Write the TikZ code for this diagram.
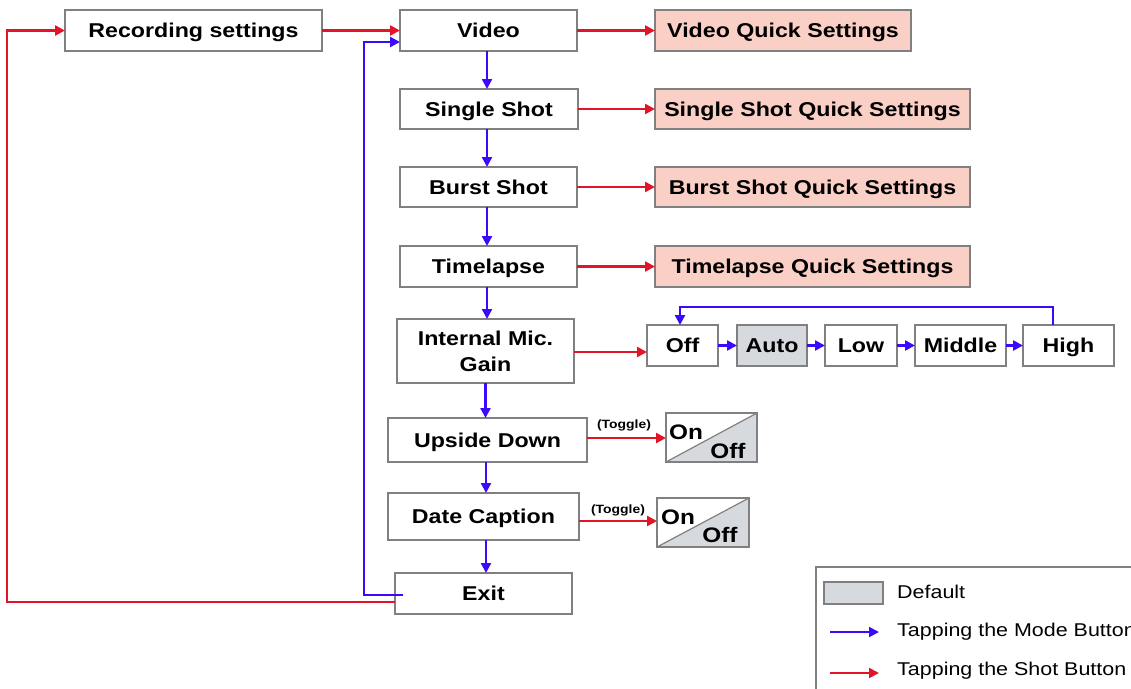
\documentclass[tikz,border=0pt]{standalone}
\usepackage{fontspec}
\setmainfont[FakeStretch=1.16]{Liberation Sans}
\usetikzlibrary{arrows.meta}
\definecolor{bordergray}{RGB}{128,128,128}
\definecolor{pinkfill}{RGB}{250,208,198}
\definecolor{defgray}{RGB}{214,217,221}
\definecolor{modeblue}{RGB}{60,10,250}
\definecolor{shotred}{RGB}{228,20,40}
\tikzset{
  boxbase/.style={draw=bordergray, line width=2pt, fill=white, inner sep=0pt, outer sep=0pt,
    font=\fontsize{20}{26}\selectfont\bfseries, align=center},
  box/.style={boxbase, text height=14.3pt, text depth=0pt},
  qs/.style={box, fill=pinkfill},
  defbox/.style={box, fill=defgray},
  tip/.style={-{Triangle[length=10pt,width=10pt]}},
  mode/.style={tip, draw=modeblue, line width=2.4pt},
  shot/.style={tip, draw=shotred, line width=2.4pt},
  toggletxt/.style={font=\fontsize{12}{14}\selectfont\bfseries, inner sep=0pt},
  ootxt/.style={font=\fontsize{21}{24}\selectfont\bfseries, inner sep=0pt},
  legtxt/.style={font=\fontsize{18.5}{22}\selectfont, inner sep=0pt, anchor=west}
}
\begin{document}
\begin{tikzpicture}[x=1pt,y=-1pt]
\useasboundingbox (0,0) rectangle (1131,688);
% legend (drawn first, partly outside the page)
\node[draw=bordergray, line width=1.8pt, minimum width=330pt, minimum height=140pt, inner sep=0pt, outer sep=0pt] (legend) at (981,637) {};
\node[defbox, minimum width=59pt, minimum height=22pt] (legdef) at (853.5,593) {};
\node[legtxt] (legdeft) at (897,592) {Default};
\coordinate (lbA) at (830,632);
\coordinate (lbB) at (879,632);
\coordinate (lrA) at (830,673);
\coordinate (lrB) at (879,673);
\draw[mode, line width=2pt] (lbA) -- (lbB);
\draw[shot, line width=2pt] (lrA) -- (lrB);
\node[legtxt] (legmode) at (897,632) {Tapping the Mode Button};
\node[legtxt] (legshot) at (897,671) {Tapping the Shot Button};

% main boxes
\node[box, minimum width=257pt, minimum height=41pt] (rec) at (193.5,30.5) {Recording settings};
\node[box, minimum width=177pt, minimum height=41pt] (video) at (488.5,30.5) {Video};
\node[qs, minimum width=256pt, minimum height=41pt] (vqs) at (783,30.5) {Video Quick Settings};
\node[box, minimum width=178pt, minimum height=40pt] (single) at (489,109) {Single Shot};
\node[qs, minimum width=315pt, minimum height=40pt] (sqs) at (812.5,109) {Single Shot Quick Settings};
\node[box, minimum width=177pt, minimum height=40pt] (burst) at (488.5,187) {Burst Shot};
\node[qs, minimum width=315pt, minimum height=40pt] (bqs) at (812.5,187) {Burst Shot Quick Settings};
\node[box, minimum width=177pt, minimum height=41pt] (time) at (488.5,266.5) {Timelapse};
\node[qs, minimum width=315pt, minimum height=41pt] (tqs) at (812.5,266.5) {Timelapse Quick Settings};
\node[boxbase, minimum width=177pt, minimum height=64pt] (mic) at (485.5,351) {Internal Mic.\\Gain};
\node[box, minimum width=71pt, minimum height=41pt] (off) at (682.5,345.5) {Off};
\node[defbox, minimum width=70pt, minimum height=41pt] (auto) at (772,345.5) {Auto};
\node[box, minimum width=72pt, minimum height=41pt] (low) at (861,345.5) {Low};
\node[box, minimum width=91pt, minimum height=41pt] (middle) at (960.5,345.5) {Middle};
\node[box, minimum width=91pt, minimum height=41pt] (high) at (1068.5,345.5) {High};
\node[box, minimum width=199pt, minimum height=44pt] (upside) at (487.5,440) {Upside Down};
\node[box, minimum width=191pt, minimum height=47pt] (date) at (483.5,516.5) {Date Caption};
\node[box, minimum width=177pt, minimum height=41pt] (exit) at (483.5,593.5) {Exit};

% on/off toggle boxes
\node[box, minimum width=91pt, minimum height=49pt] (oo1) at (711.5,437.5) {};
\fill[defgray] (oo1.south west) -- (oo1.south east) -- (oo1.north east) -- cycle;
\draw[bordergray, line width=1.2pt] (oo1.south west) -- (oo1.north east);
\draw[bordergray, line width=2pt] (oo1.south west) rectangle (oo1.north east);
\node[ootxt] (oo1on) at (686,432) {On};
\node[ootxt] (oo1off) at (728,451) {Off};

\node[box, minimum width=92pt, minimum height=49pt] (oo2) at (703,522.5) {};
\fill[defgray] (oo2.south west) -- (oo2.south east) -- (oo2.north east) -- cycle;
\draw[bordergray, line width=1.2pt] (oo2.south west) -- (oo2.north east);
\draw[bordergray, line width=2pt] (oo2.south west) rectangle (oo2.north east);
\node[ootxt] (oo2on) at (678,517) {On};
\node[ootxt] (oo2off) at (720,535) {Off};

\node[toggletxt] (tg1) at (624,425) {(Toggle)};
\node[toggletxt] (tg2) at (618,510) {(Toggle)};

% shot (red) connectors
\draw[shot] (rec.east) -- (video.west |- rec.east);
\draw[shot] (video.east) -- (vqs.west);
\draw[shot] (single.east) -- (sqs.west);
\draw[shot] (burst.east) -- (bqs.west);
\draw[shot] (time.east) -- (tqs.west);
\draw[shot] ([yshift=-1pt]mic.east) -- ([yshift=-1pt]mic.east -| off.west);
\draw[shot] ([yshift=2pt]upside.east) -- ([yshift=2pt]upside.east -| oo1.west);
\draw[shot] ([yshift=-4.5pt]date.east) -- ([yshift=-4.5pt]date.east -| oo2.west);
\draw[shot] ([yshift=-8.5pt]exit.west) -- (7,602) |- (rec.west);

% mode (blue) connectors
\draw[mode] ([xshift=-1.5pt]video.south) -- ([xshift=-1.5pt]video.south |- single.north);
\draw[mode] ([xshift=-2pt]single.south) -- ([xshift=-2pt]single.south |- burst.north);
\draw[mode] ([xshift=-1.5pt]burst.south) -- ([xshift=-1.5pt]burst.south |- time.north);
\draw[mode] ([xshift=-1.5pt]time.south) -- ([xshift=-1.5pt]time.south |- mic.north);
\draw[mode] (mic.south) -- (mic.south |- upside.north);
\draw[mode] ([xshift=-1.5pt]upside.south) -- ([xshift=-1.5pt]upside.south |- date.north);
\draw[mode] ([xshift=2.5pt]date.south) -- ([xshift=2.5pt]date.south |- exit.north);
\draw[mode] (off.east) -- (auto.west);
\draw[mode] (auto.east) -- (low.west);
\draw[mode] (low.east) -- (middle.west);
\draw[mode] (middle.east) -- (high.west);
\draw[mode] ([xshift=-15.5pt]high.north) -- ++(0,-18) -| ([xshift=-2.5pt]off.north);
\draw[mode] ([xshift=8pt,yshift=-1.5pt]exit.west) -- (364,595) |- ([yshift=-11.5pt]video.west);
\end{tikzpicture}
\end{document}
